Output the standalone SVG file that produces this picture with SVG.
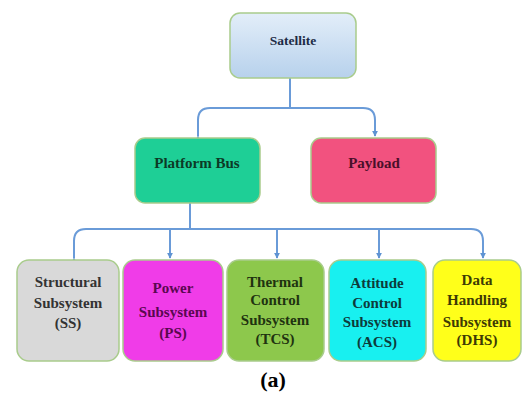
<svg xmlns="http://www.w3.org/2000/svg" width="526" height="394" viewBox="0 0 526 394">
<defs>
<linearGradient id="satg" x1="0" y1="0" x2="0" y2="1">
<stop offset="0" stop-color="#e3eef9"/>
<stop offset="1" stop-color="#b7d1ec"/>
</linearGradient>
<marker id="arr" viewBox="0 0 8 8" refX="7" refY="4" markerWidth="6" markerHeight="6" orient="auto" markerUnits="userSpaceOnUse">
<path d="M0,0 L8,4 L0,8 z" fill="#5f93d3"/>
</marker>
</defs>
<style>
.box{stroke:#a9cc8c;stroke-width:1.5}
.t{font-weight:bold;font-size:15px;text-anchor:middle}
.c{fill:none;stroke:#6a9bd8;stroke-width:2}
</style>
<rect width="526" height="394" fill="#ffffff"/>
<g id="connectors">
<path class="c" d="M290,78 V108"/>
<path class="c" d="M198,136 V120 Q198,108 210,108 H363 Q375,108 375,120 V136" marker-start="url(#arr)" marker-end="url(#arr)"/>
<path class="c" d="M190,203 V229"/>
<path class="c" d="M74,258 V241 Q74,229 86,229 H471 Q483,229 483,241 V258" marker-start="url(#arr)" marker-end="url(#arr)"/>
<path class="c" d="M170,229 V258" marker-end="url(#arr)"/>
<path class="c" d="M277,229 V258" marker-end="url(#arr)"/>
<path class="c" d="M379,229 V258" marker-end="url(#arr)"/>
</g>
<g font-family="Liberation Serif, Times New Roman, serif">
<g id="satellite">
<rect class="box" x="230" y="13" width="126" height="65" rx="10" fill="url(#satg)"/>
<text class="t" x="293" y="45" style="font-size:13.5px" fill="#1d2b45">Satellite</text>
</g>
<g id="platform-bus">
<rect class="box" x="135" y="138" width="125" height="65" rx="10" fill="#1ecf96" stroke="#7fd8a0"/>
<text class="t" x="197" y="168" fill="#0c3a26">Platform Bus</text>
</g>
<g id="payload">
<rect class="box" x="311" y="138" width="125" height="65" rx="10" fill="#f2527f" stroke="#d98a8a"/>
<text class="t" x="374" y="168" fill="#4a0f2a">Payload</text>
</g>
<g id="ss">
<rect class="box" x="17" y="260" width="102" height="101" rx="12" fill="#d9d9d9"/>
<text class="t" x="68" y="287" fill="#333333">Structural</text>
<text class="t" x="68" y="308" fill="#333333">Subsystem</text>
<text class="t" x="68" y="328" fill="#333333">(SS)</text>
</g>
<g id="ps">
<rect class="box" x="123" y="260" width="100" height="101" rx="12" fill="#f03ce8" stroke="#c97fc0"/>
<text class="t" x="173" y="293" fill="#5a0850">Power</text>
<text class="t" x="173" y="317" fill="#5a0850">Subsystem</text>
<text class="t" x="173" y="338" fill="#5a0850">(PS)</text>
</g>
<g id="tcs">
<rect class="box" x="227" y="260" width="97" height="101" rx="12" fill="#8dc84c"/>
<text class="t" x="275" y="287" fill="#1f3310">Thermal</text>
<text class="t" x="275" y="305" fill="#1f3310">Control</text>
<text class="t" x="275" y="325" fill="#1f3310">Subsystem</text>
<text class="t" x="275" y="344" fill="#1f3310">(TCS)</text>
</g>
<g id="acs">
<rect class="box" x="329" y="260" width="97" height="101" rx="12" fill="#18f0f0" stroke="#8fd0c0"/>
<text class="t" x="377" y="288" fill="#0d3b3b">Attitude</text>
<text class="t" x="377" y="308" fill="#0d3b3b">Control</text>
<text class="t" x="377" y="327" fill="#0d3b3b">Subsystem</text>
<text class="t" x="377" y="347" fill="#0d3b3b">(ACS)</text>
</g>
<g id="dhs">
<rect class="box" x="433" y="260" width="88" height="101" rx="12" fill="#ffff1a" stroke="#c8cf8a"/>
<text class="t" x="477" y="285" fill="#3d3a05">Data</text>
<text class="t" x="477" y="305" fill="#3d3a05">Handling</text>
<text class="t" x="477" y="327" fill="#3d3a05">Subsystem</text>
<text class="t" x="477" y="345" fill="#3d3a05">(DHS)</text>
</g>
<text x="273" y="387" font-weight="bold" font-size="22" text-anchor="middle" fill="#000000">(a)</text>
</g>
</svg>
